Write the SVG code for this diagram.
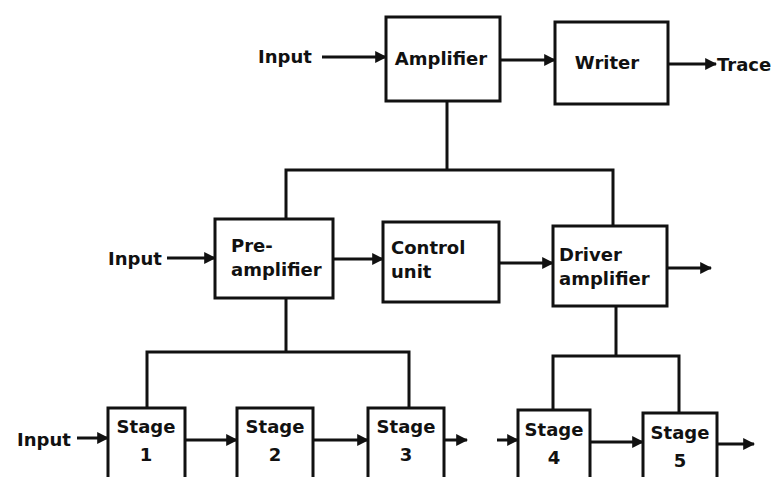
<svg xmlns="http://www.w3.org/2000/svg" width="775" height="477" viewBox="0 0 775 477">
<style>
.box{fill:none;stroke:#111;stroke-width:3}
.ln{fill:none;stroke:#111;stroke-width:3}
.ar{fill:none;stroke:#111;stroke-width:3;marker-end:url(#ah)}
text{font-family:"DejaVu Sans","Liberation Sans",sans-serif;font-size:18px;font-weight:bold;fill:#111}
.c{text-anchor:middle}
</style>
<defs>
<marker id="ah" viewBox="0 0 10 10" refX="9" refY="5" markerWidth="4" markerHeight="4" orient="auto" markerUnits="strokeWidth">
<path d="M0,0 L10,5 L0,10 z" fill="#111"/>
</marker>
</defs>
<rect width="775" height="477" fill="#fff"/>
<g id="connectors">
<line class="ar" x1="322" y1="57" x2="386" y2="57"/>
<line class="ar" x1="500" y1="60" x2="555" y2="60"/>
<line class="ar" x1="668" y1="64" x2="716" y2="64"/>
<polyline class="ln" points="447,101 447,170"/>
<polyline class="ln" points="286,220 286,170 613,170 613,226"/>
<line class="ar" x1="167" y1="258" x2="215" y2="258"/>
<line class="ar" x1="333" y1="259" x2="383" y2="259"/>
<line class="ar" x1="499" y1="263" x2="553" y2="263"/>
<line class="ar" x1="667" y1="268" x2="711" y2="268"/>
<polyline class="ln" points="286,298 286,352"/>
<polyline class="ln" points="147,408 147,352 409,352 409,408"/>
<polyline class="ln" points="616,306 616,356"/>
<polyline class="ln" points="553,410 553,356 679,356 679,413"/>
<line class="ar" x1="77" y1="438" x2="108" y2="438"/>
<line class="ar" x1="185" y1="440" x2="237" y2="440"/>
<line class="ar" x1="313" y1="440" x2="368" y2="440"/>
<line class="ar" x1="444" y1="440" x2="467" y2="440"/>
<line class="ar" x1="497" y1="440" x2="518" y2="440"/>
<line class="ar" x1="590" y1="442" x2="643" y2="442"/>
<line class="ar" x1="717" y1="444" x2="754" y2="444"/>
</g>
<g id="labels">
<text x="258" y="63">Input</text>
<text x="717" y="71">Trace</text>
<text x="108" y="265">Input</text>
<text x="17" y="446">Input</text>
</g>
<g id="amplifier"><rect class="box" x="386" y="17" width="114" height="84"/><text class="c" x="441" y="65">Amplifier</text></g>
<g id="writer"><rect class="box" x="555" y="22" width="113" height="82"/><text class="c" x="607" y="69">Writer</text></g>
<g id="preamplifier"><rect class="box" x="215" y="219" width="118" height="79"/><text x="231" y="252">Pre-</text><text x="231" y="276">amplifier</text></g>
<g id="control"><rect class="box" x="383" y="222" width="116" height="80"/><text x="391" y="254">Control</text><text x="391" y="278">unit</text></g>
<g id="driver"><rect class="box" x="553" y="226" width="114" height="80"/><text x="559" y="261">Driver</text><text x="559" y="285">amplifier</text></g>
<g id="stage1"><rect class="box" x="108" y="408" width="77" height="72"/><text class="c" x="146" y="433">Stage</text><text class="c" x="146" y="461">1</text></g>
<g id="stage2"><rect class="box" x="237" y="408" width="76" height="72"/><text class="c" x="275" y="433">Stage</text><text class="c" x="275" y="461">2</text></g>
<g id="stage3"><rect class="box" x="368" y="408" width="76" height="72"/><text class="c" x="406" y="433">Stage</text><text class="c" x="406" y="461">3</text></g>
<g id="stage4"><rect class="box" x="518" y="410" width="72" height="72"/><text class="c" x="554" y="436">Stage</text><text class="c" x="554" y="464">4</text></g>
<g id="stage5"><rect class="box" x="643" y="413" width="74" height="70"/><text class="c" x="680" y="439">Stage</text><text class="c" x="680" y="467">5</text></g>
</svg>
